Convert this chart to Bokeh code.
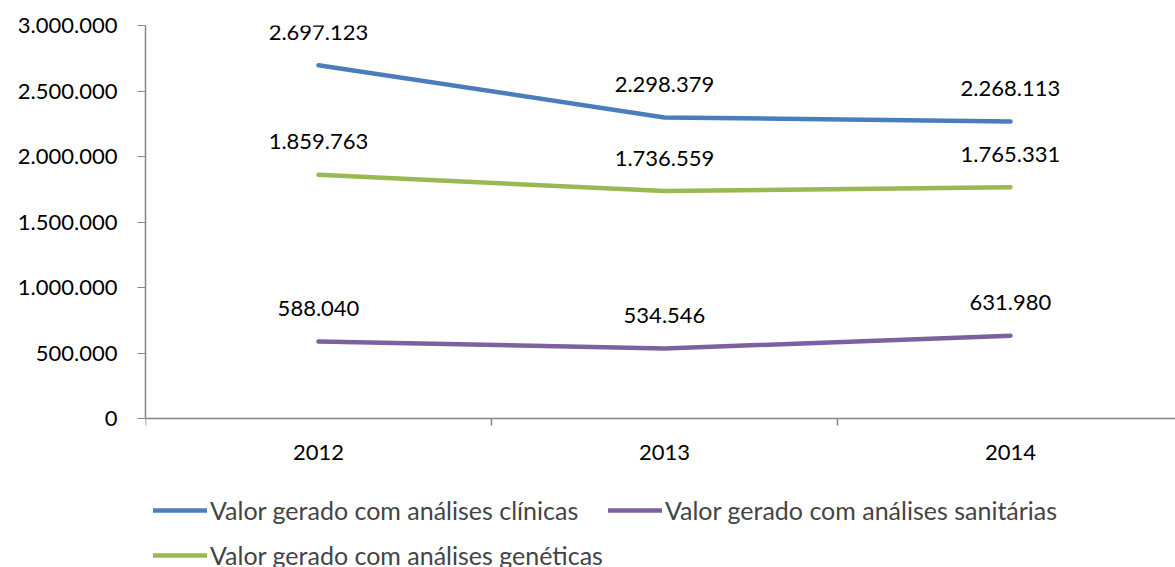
from bokeh.plotting import figure
from bokeh.models import Legend, LegendItem, FixedTicker, Range1d, Span
from bokeh.core.properties import value
from bokeh.embed import file_html
from bokeh.resources import INLINE

years = ["2012", "2013", "2014"]
series_names = [
    "Valor gerado com análises clínicas",
    "Valor gerado com análises sanitárias",
    "Valor gerado com análises genéticas",
]
clinicas = [2697123, 2298379, 2268113]
sanitarias = [588040, 534546, 631980]
geneticas = [1859763, 1736559, 1765331]
y_ticks = [0, 500000, 1000000, 1500000, 2000000, 2500000, 3000000]
colors = ["#4A7EBB", "#7D60A0", "#98B954"]

FONT = "Lato"
FS = "22px"
LEG_FS = "25px"
AXIS_COLOR = "#868686"

# layout (pixels)
TOP, PLOT_H, BELOW_H = 25, 393, 149   # axis area height, area below the x axis
LEFT, FRAME_W = 145, 1030
Y_MAX = y_ticks[-1]
PX = Y_MAX / PLOT_H                   # data units per pixel on y


def fmt(v):
    return f"{v:,}".replace(",", ".")


xs = list(range(len(years)))
bounds = [i - 0.5 for i in range(len(years) + 1)]

p = figure(frame_width=FRAME_W, frame_height=PLOT_H + BELOW_H, output_backend="svg",
           toolbar_location=None, x_axis_location=None,
           x_range=Range1d(-0.5, len(years) - 0.523),
           y_range=Range1d(-BELOW_H * PX, Y_MAX),
           min_border_left=LEFT, min_border_top=TOP, min_border_right=0, min_border_bottom=0,
           outline_line_color=None)
p.xgrid.visible = False
p.ygrid.visible = False

# y axis
p.yaxis.bounds = (0, Y_MAX)
p.yaxis.ticker = FixedTicker(ticks=y_ticks)
p.yaxis.major_label_overrides = {t: fmt(t) for t in y_ticks}
p.yaxis.minor_tick_line_color = None
p.yaxis.major_tick_out = 8
p.yaxis.major_tick_in = 0
p.yaxis.major_tick_line_color = AXIS_COLOR
p.yaxis.axis_line_color = AXIS_COLOR
p.yaxis.axis_line_width = 1.5
p.yaxis.major_label_standoff = 20
p.yaxis.major_label_text_font = FONT
p.yaxis.major_label_text_font_size = FS
p.yaxis.major_label_text_color = "black"

# x axis (line at y=0, ticks between categories, year labels)
p.add_layout(Span(location=0, dimension="width", line_color=AXIS_COLOR, line_width=1.5))
p.segment(x0=bounds, y0=[0] * len(bounds), x1=bounds, y1=[-7 * PX] * len(bounds),
          line_color=AXIS_COLOR, line_width=1.5)
p.text(x=xs, y=[0] * len(xs), text=years, text_align="center", text_baseline="middle",
       y_offset=34, text_font=value(FONT), text_font_size=FS, text_color="black")

items = []
for name, vals, col in zip(series_names, [clinicas, sanitarias, geneticas], colors):
    r = p.line(xs, vals, line_color=col, line_width=4.5, line_cap="round", line_join="round")
    p.text(x=xs, y=vals, text=[fmt(v) for v in vals], text_align="center",
           text_baseline="middle", y_offset=-33, text_font=value(FONT),
           text_font_size=FS, text_color="black")
    items.append(LegendItem(label=name, renderers=[r]))

legend = Legend(items=items, orientation="horizontal", ncols=2, location=(8, -8),
                margin=0, padding=0, glyph_width=54, glyph_height=40, label_height=40,
                label_standoff=3, spacing=5,
                label_text_font=FONT, label_text_font_size=LEG_FS,
                border_line_color=None, background_fill_alpha=0)
p.add_layout(legend, "center")

open("out.html", "w").write(file_html(p, INLINE))
